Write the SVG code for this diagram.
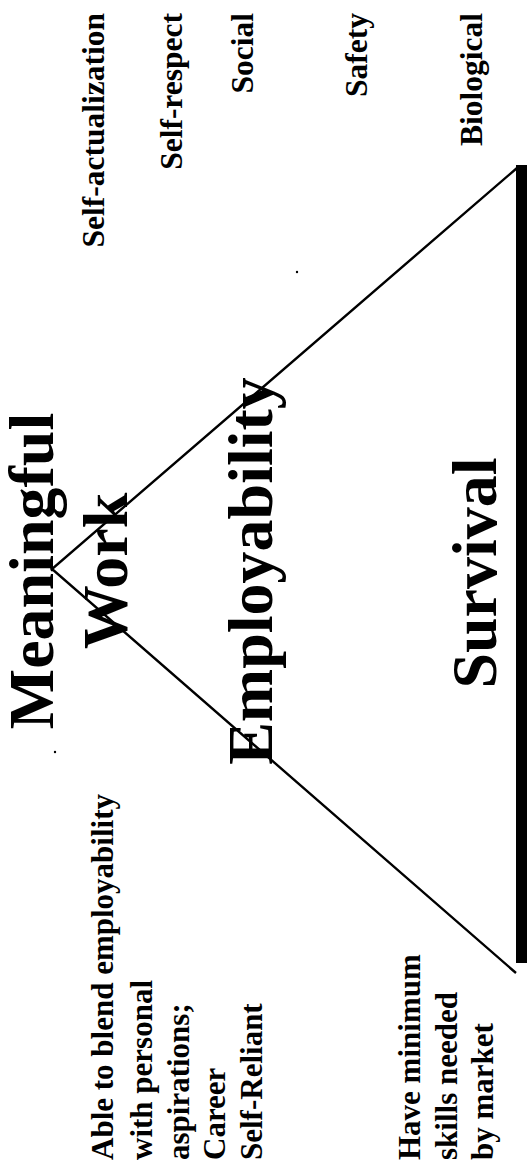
<svg xmlns="http://www.w3.org/2000/svg" width="527" height="1167" viewBox="0 0 527 1167">
<style>
text{font-family:"Liberation Serif","Times New Roman",serif;font-weight:bold;fill:#000}
.big{font-size:64px;text-anchor:middle}
.lvl{font-size:31.5px;text-anchor:end}
.desc{font-size:31px;text-anchor:start}
.edge{fill:none;stroke:#000;stroke-width:2.4}
</style>
<rect width="527" height="1167" fill="#fff"/>
<g id="connectors">
<polyline class="edge" points="517,168 52,569 516,973"/>
<rect id="base-bar" x="516" y="165" width="11" height="798" fill="#000"/>
<circle cx="297" cy="272" r="1.2" fill="#000"/>
<circle cx="55" cy="752" r="1.2" fill="#000"/>
</g>
<g id="levels">
<text class="lvl" transform="translate(104,13) rotate(-90)">Self-actualization</text>
<text class="lvl" transform="translate(182,13) rotate(-90)">Self-respect</text>
<text class="lvl" transform="translate(253,13) rotate(-90)">Social</text>
<text class="lvl" transform="translate(367,13) rotate(-90)">Safety</text>
<text class="lvl" transform="translate(482,13) rotate(-90)">Biological</text>
</g>
<g id="meaningful-work">
<text class="big" transform="translate(53,571) rotate(-90)">Meaningful</text>
<text class="big" transform="translate(127,571) rotate(-90)">Work</text>
</g>
<g id="employability">
<text class="big" transform="translate(272,571) rotate(-90)">Employability</text>
</g>
<g id="survival">
<text class="big" transform="translate(496,573) rotate(-90)">Survival</text>
</g>
<g id="desc-meaningful">
<text class="desc" transform="translate(113,1160) rotate(-90)">Able to blend employability</text>
<text class="desc" transform="translate(152,1160) rotate(-90)">with personal</text>
<text class="desc" transform="translate(189,1160) rotate(-90)">aspirations;</text>
<text class="desc" transform="translate(225,1160) rotate(-90)">Career</text>
<text class="desc" transform="translate(262,1160) rotate(-90)">Self-Reliant</text>
</g>
<g id="desc-survival">
<text class="desc" transform="translate(420,1160) rotate(-90)">Have minimum</text>
<text class="desc" transform="translate(457,1160) rotate(-90)">skills needed</text>
<text class="desc" transform="translate(493,1160) rotate(-90)">by market</text>
</g>
</svg>
